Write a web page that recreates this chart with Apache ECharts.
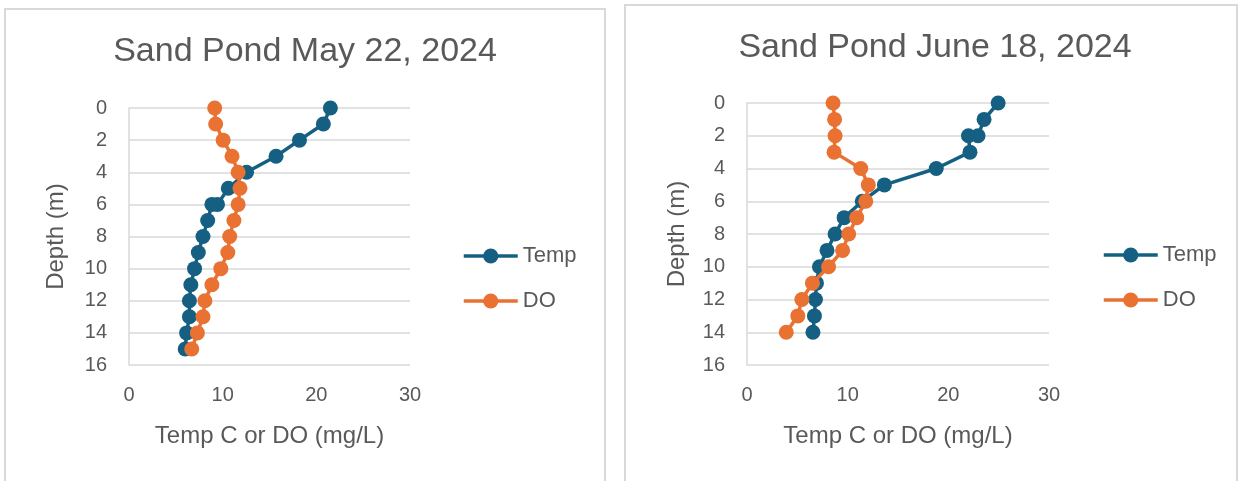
<!DOCTYPE html>
<html>
<head>
<meta charset="utf-8">
<script src="https://cdn.jsdelivr.net/npm/echarts@6/dist/echarts.min.js"></script>
<style>
  html, body { margin: 0; padding: 0; background: #ffffff; }
  #chart { width: 1244px; height: 481px; }
</style>
</head>
<body>
<div id="chart"></div>
<script>
// Sand Pond depth profiles: temperature (C) and dissolved oxygen (mg/L) by depth (m)

// May 22, 2024
const mayTempDepth = [0, 1, 2, 3, 4, 5, 6, 6, 7, 8, 9, 10, 11, 12, 13, 14, 15];
const mayTemp      = [21.5, 20.75, 18.2, 15.7, 12.55, 10.6, 9.45, 8.85, 8.4, 7.9, 7.4, 7.0, 6.6, 6.45, 6.45, 6.15, 6.0];
const mayDODepth   = [0, 1, 2, 3, 4, 5, 6, 7, 8, 9, 10, 11, 12, 13, 14, 15];
const mayDO        = [9.15, 9.25, 10.05, 11.0, 11.65, 11.85, 11.65, 11.2, 10.75, 10.55, 9.8, 8.85, 8.1, 7.9, 7.3, 6.7];

// June 18, 2024
const juneTempDepth = [0, 1, 2, 2, 3, 4, 5, 6, 7, 8, 9, 10, 11, 12, 13, 14];
const juneTemp      = [24.95, 23.55, 22.95, 22.0, 22.15, 18.8, 13.65, 11.45, 9.65, 8.75, 7.95, 7.2, 6.9, 6.8, 6.7, 6.55];
const juneDODepth   = [0, 1, 2, 3, 4, 5, 6, 7, 8, 9, 10, 11, 12, 13, 14];
const juneDO        = [8.55, 8.7, 8.75, 8.65, 11.3, 12.05, 11.8, 10.9, 10.1, 9.5, 8.1, 6.5, 5.45, 5.05, 3.9];

const titles = ['Sand Pond May 22, 2024', 'Sand Pond June 18, 2024'];
const seriesNames = ['Temp', 'DO'];
const xTitle = 'Temp C or DO (mg/L)';
const yTitle = 'Depth (m)';

const TEMP_COLOR = '#156082';
const DO_COLOR = '#E97132';
const TEXT_COLOR = '#595959';
const GRID_COLOR = '#d9d9d9';
const FONT = '"Liberation Sans", Arial, sans-serif';

function pairs(xs, depths) {
  return xs.map((v, i) => [v, depths[i]]);
}

function xAxisFor(gridIndex) {
  return {
    gridIndex: gridIndex,
    type: 'value',
    min: 0, max: 30, interval: 10,
    position: 'bottom',
    axisLine: { show: false, onZero: false },
    axisTick: { show: false },
    splitLine: { show: false },
    axisLabel: { color: TEXT_COLOR, fontSize: 20, fontFamily: FONT, margin: 20 },
    name: xTitle,
    nameLocation: 'middle',
    nameGap: 59,
    nameTextStyle: { color: TEXT_COLOR, fontSize: 24, fontFamily: FONT }
  };
}

function yAxisFor(gridIndex, nameGap) {
  return {
    gridIndex: gridIndex,
    type: 'value',
    inverse: true,
    min: 0, max: 16, interval: 2,
    axisLine: { show: true, onZero: false, lineStyle: { color: GRID_COLOR, width: 1.5 } },
    axisTick: { show: false },
    splitLine: { show: true, lineStyle: { color: GRID_COLOR, width: 1.5 } },
    axisLabel: { color: TEXT_COLOR, fontSize: 20, fontFamily: FONT, margin: 22 },
    name: yTitle,
    nameLocation: 'middle',
    nameGap: nameGap,
    nameTextStyle: { color: TEXT_COLOR, fontSize: 24, fontFamily: FONT }
  };
}

function lineSeries(name, color, data, idx) {
  return {
    name: name,
    type: 'line',
    xAxisIndex: idx,
    yAxisIndex: idx,
    data: data,
    symbol: 'circle',
    symbolSize: 15,
    lineStyle: { color: color, width: 3.5 },
    itemStyle: { color: color },
    z: name === 'DO' ? 3 : 2
  };
}

function legendFor(left, top) {
  return {
    data: seriesNames, orient: 'vertical', left: left, top: top, padding: 0,
    itemWidth: 54, itemHeight: 19, itemGap: 23,
    lineStyle: { width: 3.5 },
    textStyle: { color: TEXT_COLOR, fontSize: 22, fontFamily: FONT, lineHeight: 22 }
  };
}

const chart = echarts.init(document.getElementById('chart'), null, { renderer: 'canvas' });

chart.setOption({
  animation: false,
  backgroundColor: '#ffffff',
  graphic: [
    { type: 'rect', shape: { x: 5, y: 9, width: 600, height: 500 },
      style: { fill: 'none', stroke: GRID_COLOR, lineWidth: 2 }, z: -1 },
    { type: 'rect', shape: { x: 625, y: 5, width: 612, height: 500 },
      style: { fill: 'none', stroke: GRID_COLOR, lineWidth: 2 }, z: -1 }
  ],
  title: [
    { text: titles[0], left: 305, top: 35, padding: 0, textAlign: 'center',
      textStyle: { color: TEXT_COLOR, fontSize: 34, fontWeight: 'normal', fontFamily: FONT } },
    { text: titles[1], left: 935, top: 31, padding: 0, textAlign: 'center',
      textStyle: { color: TEXT_COLOR, fontSize: 34, fontWeight: 'normal', fontFamily: FONT } }
  ],
  legend: [legendFor(462, 245), legendFor(1102, 244)],
  grid: [
    { left: 129, top: 108, width: 281, height: 257 },
    { left: 747, top: 103, width: 302, height: 262 }
  ],
  xAxis: [xAxisFor(0), xAxisFor(1)],
  yAxis: [yAxisFor(0, 61), yAxisFor(1, 58)],
  series: [
    lineSeries(seriesNames[0], TEMP_COLOR, pairs(mayTemp, mayTempDepth), 0),
    lineSeries(seriesNames[1], DO_COLOR, pairs(mayDO, mayDODepth), 0),
    lineSeries(seriesNames[0], TEMP_COLOR, pairs(juneTemp, juneTempDepth), 1),
    lineSeries(seriesNames[1], DO_COLOR, pairs(juneDO, juneDODepth), 1)
  ]
});
</script>
</body>
</html>
